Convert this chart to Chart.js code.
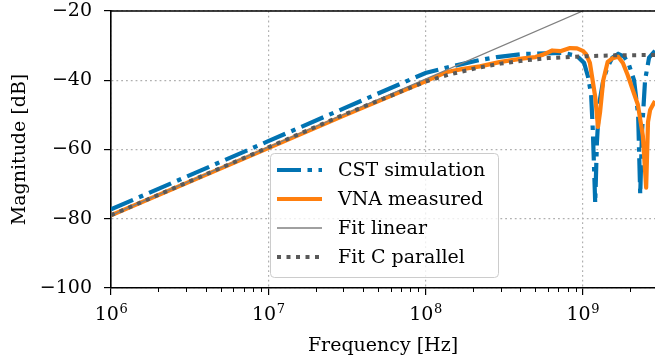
<!DOCTYPE html>
<html>
<head>
<meta charset="utf-8">
<script src="https://cdn.jsdelivr.net/npm/chart.js@4.4.1/dist/chart.umd.min.js"></script>
<style>
html, body { margin: 0; padding: 0; background: #fff; }
#chart { display: block; }
</style>
</head>
<body>
<canvas id="chart" width="655" height="360"></canvas>
<script>
// axis ticks
const freqTicks = [1e6, 1e7, 1e8, 1e9];
const freqExp = ['6', '7', '8', '9'];
const magTicks = [-100, -80, -60, -40, -20];

// CST simulation
const cstFreq = [1e6, 1e7, 3e7, 1e8, 1.37e8, 2.2e8, 2.85e8, 4.2e8, 7.5e8, 9.2e8, 1.02e9,
  1.08e9, 1.13e9, 1.16e9, 1.2e9, 1.23e9, 1.27e9, 1.35e9, 1.43e9, 1.54e9, 1.68e9,
  1.83e9, 1.95e9, 2.12e9, 2.25e9, 2.32e9, 2.38e9, 2.49e9, 2.64e9, 2.88e9];
const cstMag = [-77.3, -57.6, -48.2, -37.9, -36.3, -34.2, -33.3, -32.4, -32.1, -33, -35,
  -39, -44, -55, -75.5, -58, -47, -40, -36.5, -33.5, -32.4,
  -33.2, -35, -40, -50, -73, -55, -40, -33.5, -31.5];

// VNA measured
const vnaFreq = [1e6, 1e7, 3e7, 1e8, 1.37e8, 1.7e8, 2.22e8, 3e8, 4.2e8, 5e8, 5.6e8, 6.4e8,
  7.2e8, 8.3e8, 9.2e8, 1.0e9, 1.05e9, 1.11e9, 1.2e9, 1.25e9, 1.29e9, 1.35e9, 1.44e9,
  1.55e9, 1.68e9, 1.8e9, 1.93e9, 2.08e9, 2.24e9, 2.41e9, 2.53e9, 2.6e9, 2.68e9, 2.8e9, 2.88e9];
const vnaMag = [-79, -59.6, -50.3, -40.3, -37.6, -36.8, -36, -34.7, -33.7, -33.3, -32.6, -31.4,
  -31.6, -30.7, -30.8, -31.5, -32.5, -35, -44.8, -53.5, -49, -40, -34.7,
  -33.6, -33.2, -35, -38.5, -42.8, -47, -56, -71, -52, -48.6, -47, -46];

// Fit linear
const linFreq = [1e6, 1e9];
const linMag = [-79, -20];

// Fit C parallel
const cparFreq = [1e6, 1e7, 3e7, 1e8, 1.4e8, 2.2e8, 3e8, 4.2e8, 6e8, 1e9, 1.6e9, 2.88e9];
const cparMag = [-79, -59.4, -50, -40.4, -38.4, -36.3, -35.2, -34.3, -33.6, -33.1, -32.8, -32.7];

const FONT = '"DejaVu Serif", serif';

function pts(fx, fy) {
  return fx.map((f, i) => ({ x: f, y: fy[i] }));
}

const legendPlugin = {
  id: 'decor',
  afterDraw(chart) {
    const { ctx, chartArea: a, scales } = chart;
    const xs = scales.x;
    ctx.save();

    // top spine
    ctx.strokeStyle = '#000';
    ctx.lineWidth = 1.6;
    ctx.beginPath();
    ctx.moveTo(a.left - 0.8, a.top);
    ctx.lineTo(a.right, a.top);
    ctx.stroke();

    // minor ticks on log axis
    ctx.lineWidth = 1;
    for (let e = 6; e <= 9; e++) {
      for (let m = 2; m <= 9; m++) {
        const v = m * Math.pow(10, e);
        if (v > xs.max) break;
        const px = Math.round(xs.getPixelForValue(v)) + 0.5;
        ctx.beginPath();
        ctx.moveTo(px, a.bottom);
        ctx.lineTo(px, a.bottom + 4);
        ctx.stroke();
      }
    }

    // x tick labels 10^n
    ctx.fillStyle = '#000';
    ctx.textBaseline = 'alphabetic';
    ctx.textAlign = 'left';
    freqTicks.forEach((v, i) => {
      const px = xs.getPixelForValue(v);
      ctx.font = '19px ' + FONT;
      const w1 = ctx.measureText('10').width;
      ctx.font = '13px ' + FONT;
      const w2 = ctx.measureText(freqExp[i]).width;
      const x0 = px - (w1 + w2) / 2;
      ctx.font = '19px ' + FONT;
      ctx.fillText('10', x0, a.bottom + 32);
      ctx.font = '13px ' + FONT;
      ctx.fillText(freqExp[i], x0 + w1 + 0.5, a.bottom + 25);
    });

    // legend box
    const lx = 270, ly = 153, lw = 228, lh = 124;
    ctx.fillStyle = 'rgba(255,255,255,0.8)';
    ctx.strokeStyle = '#cccccc';
    ctx.lineWidth = 1;
    ctx.beginPath();
    ctx.roundRect(lx + 0.5, ly + 0.5, lw, lh, 4);
    ctx.fill();
    ctx.stroke();

    const order = [0, 1, 2, 3];
    ctx.font = '19px ' + FONT;
    ctx.textBaseline = 'middle';
    order.forEach((di, row) => {
      const ds = chart.data.datasets[di];
      const cy = 170 + row * 29;
      ctx.save();
      ctx.strokeStyle = ds.borderColor;
      ctx.lineWidth = ds.borderWidth;
      ctx.setLineDash(ds.borderDash || []);
      ctx.lineCap = 'butt';
      ctx.beginPath();
      ctx.moveTo(277, cy);
      ctx.lineTo(322, cy);
      ctx.stroke();
      ctx.restore();
      ctx.fillStyle = '#000';
      ctx.fillText(ds.label, 338, cy + 1);
    });
    ctx.restore();
  }
};

const ctx = document.getElementById('chart').getContext('2d');
new Chart(ctx, {
  type: 'line',
  data: {
    datasets: [
      {
        label: 'CST simulation',
        data: pts(cstFreq, cstMag),
        borderColor: '#0173b2',
        borderWidth: 4.2,
        borderDash: [24, 6.5, 4.5, 6.5],
        pointRadius: 0,
        tension: 0,
        order: 4
      },
      {
        label: 'VNA measured',
        data: pts(vnaFreq, vnaMag),
        borderColor: '#ff7f0e',
        borderWidth: 4.2,
        borderJoinStyle: 'round',
        pointRadius: 0,
        tension: 0,
        order: 3
      },
      {
        label: 'Fit linear',
        data: pts(linFreq, linMag),
        borderColor: '#808080',
        borderWidth: 1.3,
        pointRadius: 0,
        order: 2
      },
      {
        label: 'Fit C parallel',
        data: pts(cparFreq, cparMag),
        borderColor: '#595959',
        borderWidth: 4,
        borderDash: [4, 5.5],
        pointRadius: 0,
        tension: 0,
        order: 1
      }
    ]
  },
  options: {
    responsive: false,
    animation: false,
    devicePixelRatio: 1,
    layout: { padding: { top: 11, right: 0, left: 0, bottom: 0 } },
    plugins: { legend: { display: false }, tooltip: { enabled: false } },
    scales: {
      x: {
        type: 'logarithmic',
        min: 1e6,
        max: 2.88e9,
        afterBuildTicks: s => { s.ticks = freqTicks.map(v => ({ value: v, major: true })); },
        afterFit: s => { s.height = 72; s.paddingLeft = 0; s.paddingRight = 0; },
        ticks: { display: false },
        grid: { color: '#b0b0b0', lineWidth: 1.2, tickLength: 7, tickColor: '#000', tickWidth: 1.2, tickBorderDash: [] },
        border: { display: true, color: '#000', width: 1.6, dash: [1.8, 3] },
        title: { display: true, text: 'Frequency [Hz]', color: '#000', font: { family: FONT, size: 19 }, padding: { top: 0, bottom: 3 } }
      },
      y: {
        min: -100,
        max: -20,
        afterBuildTicks: s => { s.ticks = magTicks.map(v => ({ value: v })); },
        afterFit: s => { s.width = 111; s.paddingTop = 0; s.paddingBottom = 0; },
        ticks: {
          color: '#000',
          padding: 12,
          font: { family: FONT, size: 19 },
          callback: v => (v < 0 ? '\u2212' + Math.abs(v) : String(v))
        },
        grid: { color: '#b0b0b0', lineWidth: 1.2, tickLength: 7, tickColor: '#000', tickWidth: 1.2, tickBorderDash: [] },
        border: { display: true, color: '#000', width: 1.6, dash: [1.8, 3] },
        title: { display: true, text: 'Magnitude [dB]', color: '#000', font: { family: FONT, size: 19 }, padding: { top: 9, bottom: 0 } }
      }
    }
  },
  plugins: [legendPlugin]
});
</script>
</body>
</html>
